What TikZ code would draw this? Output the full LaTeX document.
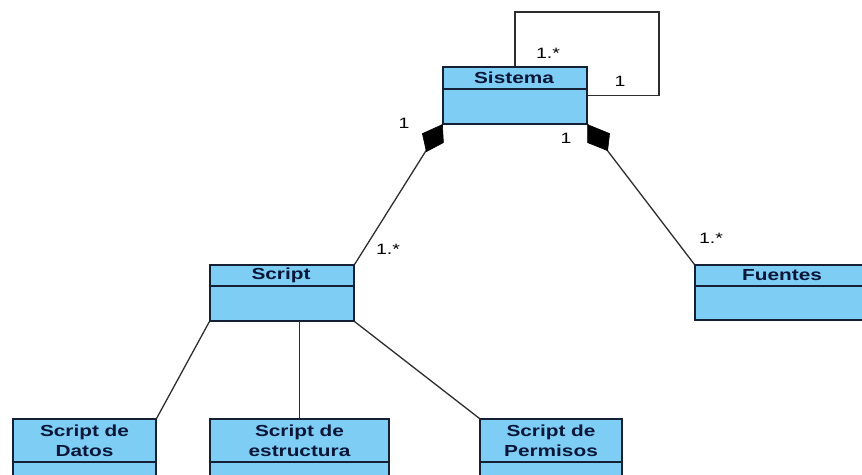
\documentclass[tikz,border=0pt]{standalone}
\usepackage{fontspec}
\setmainfont{Liberation Sans}[FakeStretch=1.3]
\definecolor{umlblue}{RGB}{125,205,245}
\definecolor{umlline}{RGB}{22,32,52}
\definecolor{umltext}{RGB}{10,22,55}
\definecolor{linkgray}{RGB}{45,45,45}
\begin{document}
\begin{tikzpicture}[x=1pt,y=-1pt,
  umlbox/.style={draw=umlline, fill=umlblue, line width=1.2pt, inner sep=0pt},
  divider/.style={draw=umlline, line width=1.2pt},
  title/.style={text=umltext, font=\bfseries\fontsize{16}{20}\selectfont, align=center, inner sep=0pt},
  mult/.style={text=black, font=\fontsize{15}{17}\selectfont, inner sep=0pt},
  link/.style={draw=linkgray, line width=1.3pt},
  compdiamond/.style={fill=black, draw=black, line width=0.6pt, line join=round}]
\useasboundingbox (0,0) rectangle (862,474);
\clip (0,0) rectangle (862,474);

% class boxes
\node[umlbox, minimum width=144pt, minimum height=57pt] (sis) at (515,95.5) {};
\node[umlbox, minimum width=144pt, minimum height=56pt] (scr) at (282,293) {};
\node[umlbox, minimum width=175pt, minimum height=55pt] (fue) at (782.5,292.5) {};
\node[umlbox, minimum width=143pt, minimum height=71pt] (dat) at (84.5,454.5) {};
\node[umlbox, minimum width=179pt, minimum height=71pt] (est) at (299.5,454.5) {};
\node[umlbox, minimum width=142pt, minimum height=71pt] (per) at (551,454.5) {};

% compartment dividers
\draw[divider] (sis.west |- 0,89) -- (sis.east |- 0,89);
\draw[divider] (scr.west |- 0,286) -- (scr.east |- 0,286);
\draw[divider] (fue.west |- 0,286) -- (fue.east |- 0,286);
\draw[divider] (dat.west |- 0,462) -- (dat.east |- 0,462);
\draw[divider] (est.west |- 0,462) -- (est.east |- 0,462);
\draw[divider] (per.west |- 0,462) -- (per.east |- 0,462);

% class names
\node[title] (sis-t) at (514,78) {Sistema};
\node[title] (scr-t) at (281,275.5) {Script};
\node[title] (fue-t) at (782,275.5) {Fuentes};
\node[title] (dat-t) at (84.5,441) {Script de\\Datos};
\node[title] (est-t) at (299.5,441) {Script de\\estructura};
\node[title] (per-t) at (551,441) {Script de\\Permisos};

% self association of Sistema
\coordinate (loop) at (659,12);
\draw[link] (sis.north) |- (loop) |- (sis.east);

% compositions: Sistema owns Script and Fuentes
\draw[link] (scr.north east) -- (sis.south west);
\draw[link] (fue.north west) -- (sis.south east);
\draw[compdiamond] (sis.south west) -- ++(-20,9) -- ++(4,18) -- ++(17,-9) -- cycle;
\draw[compdiamond] (sis.south east) -- ++(22,9) -- ++(-2,17) -- ++(-20,-8) -- cycle;

% specializations of Script
\draw[link] (scr.south west) -- (dat.north east);
\draw[link] (est.north) -- (est.north |- scr.south);
\draw[link] (scr.south east) -- (per.north west);

% multiplicities
\node[mult] (m1) at (548,53) {1.*};
\node[mult] (m2) at (620,81) {1};
\node[mult] (m3) at (404,123) {1};
\node[mult] (m4) at (388,249) {1.*};
\node[mult] (m5) at (566,138) {1};
\node[mult] (m6) at (711,238) {1.*};
\end{tikzpicture}
\end{document}
